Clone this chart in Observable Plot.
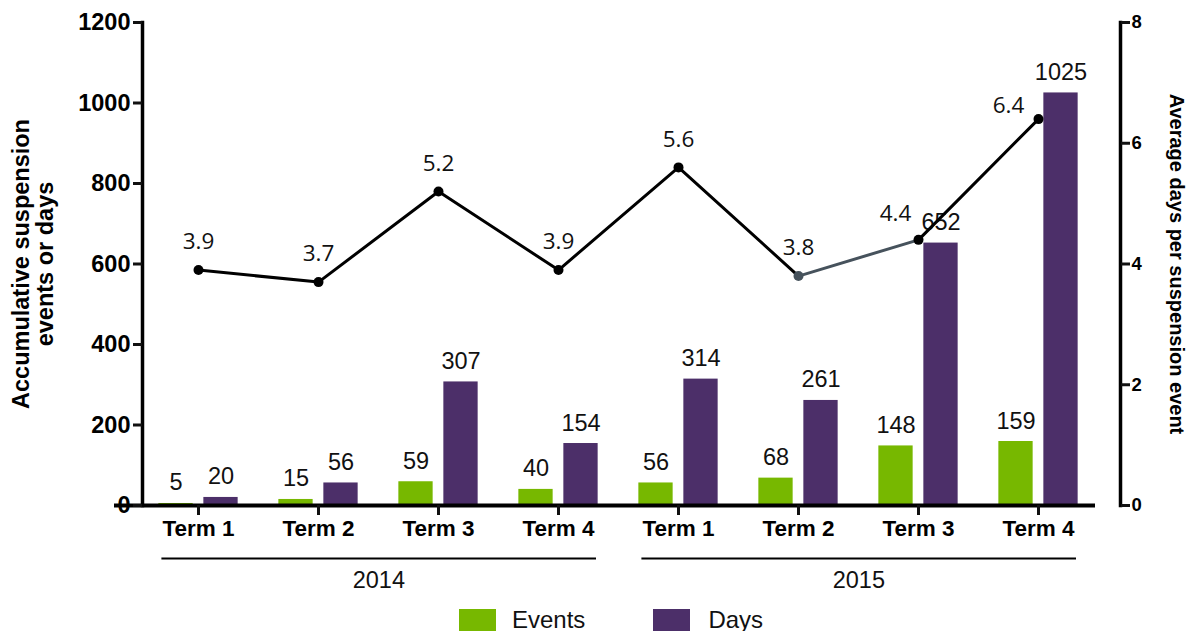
<!DOCTYPE html>
<html>
<head>
<meta charset="utf-8">
<script src="https://cdn.jsdelivr.net/npm/d3@7"></script>
<script src="https://cdn.jsdelivr.net/npm/@observablehq/plot@0.6"></script>
<style>
  html, body { margin: 0; padding: 0; background: #fff; }
  #chart svg { display: block; overflow: visible; }
  .legend { display: flex; align-items: center; margin-left: 459px; margin-top: 6px; font-family: "Liberation Sans", Arial, sans-serif; font-size: 24px; color: #111; }
  .legend .sw { width: 37px; height: 23px; display: inline-block; }
  .legend .lab { margin-left: 16px; }
</style>
</head>
<body>
<div id="chart"></div>
<div class="legend">
  <span class="sw" style="background:#77b800"></span><span class="lab">Events</span>
  <span class="sw" style="background:#4c2f69; margin-left:68px"></span><span class="lab" style="margin-left:18px">Days</span>
</div>
<script>
// ---- data ----
const terms = ["Term 1", "Term 2", "Term 3", "Term 4", "Term 1", "Term 2", "Term 3", "Term 4"];
const years = ["2014", "2014", "2014", "2014", "2015", "2015", "2015", "2015"];
const events = [5, 15, 59, 40, 56, 68, 148, 159];
const days = [20, 56, 307, 154, 314, 261, 652, 1025];
const avgDays = [3.9, 3.7, 5.2, 3.9, 5.6, 3.8, 4.4, 6.4];
const leftTicks = [0, 200, 400, 600, 800, 1000, 1200];
const rightTicks = [0, 2, 4, 6, 8];
const groupYears = ["2014", "2015"];

const GREEN = "#77b800";
const PURPLE = "#4c2f69";
const RATIO = 1200 / 8; // right axis (0-8) mapped onto left axis (0-1200)

const data = terms.map((t, i) => ({
  i, key: years[i] + " " + t, term: t, year: years[i],
  events: events[i], days: days[i], avg: avgDays[i]
}));
const keys = data.map(d => d.key);
const groups = groupYears.map(y => {
  const ks = data.filter(d => d.year === y).map(d => d.key);
  return {year: y, first: ks[0], second: ks[1], last: ks[ks.length - 1]};
});

const W = 1192, H = 600;
const mainLines = data.filter(d => d.i <= 5);
const graySeg = data.filter(d => d.i >= 5 && d.i <= 6);
const stdLabels = data.filter(d => d.i <= 5);
const LBL_FONT = "'Open Sans', sans-serif";

const plot = Plot.plot({
  width: W,
  height: H,
  marginTop: 22,
  marginBottom: 95,
  marginLeft: 142,
  marginRight: 72,
  style: {fontFamily: "'Liberation Sans', Arial, sans-serif", color: "#111", background: "#fff"},
  x: {domain: keys, range: [134.6, 1100.4], paddingInner: 0, paddingOuter: 0},
  y: {domain: [0, 1200]},
  marks: [
    // bars
    Plot.barY(data, {x: "key", y: "events", fill: GREEN, insetLeft: 20.35, insetRight: 65.35}),
    Plot.barY(data, {x: "key", y: "days", fill: PURPLE, insetLeft: 65.35, insetRight: 20.35}),
    // bar labels
    Plot.text(data, {x: "key", y: "events", text: d => String(d.events), dx: -22.5, dy: -13, lineAnchor: "bottom", fontSize: 23.5, fill: "#111"}),
    Plot.text(data, {x: "key", y: "days", text: d => String(d.days), dx: 22.5, dy: -13, lineAnchor: "bottom", fontSize: 23.5, fill: "#111"}),
    // axes frame lines
    Plot.frame({anchor: "left", strokeWidth: 3.5, stroke: "#000"}),
    Plot.frame({anchor: "right", strokeWidth: 3.5, stroke: "#000"}),
    Plot.ruleY([0], {strokeWidth: 4, stroke: "#000", insetLeft: -28, insetRight: 25}),
    // left axis
    Plot.axisY({anchor: "left", ticks: leftTicks, tickFormat: v => String(v), tickSize: 9, tickPadding: 3, strokeWidth: 3, fontSize: 23.5, fontWeight: "bold", label: null, fill: "#000"}),
    // right axis
    Plot.axisY({anchor: "right", ticks: rightTicks.map(v => v * RATIO), tickFormat: v => String(v / RATIO), tickSize: 9, tickPadding: 2, strokeWidth: 3, fontSize: 18.5, fontWeight: "bold", label: null, fill: "#000"}),
    // x axis
    Plot.axisX({anchor: "bottom", tickSize: 10, tickPadding: 5, strokeWidth: 3, fontSize: 22.5, fontWeight: "bold", tickFormat: k => k.split(" ").slice(1).join(" "), label: null, fill: "#000"}),
    // axis titles
    Plot.text(["Accumulative suspension\nevents or days"], {frameAnchor: "left", textAnchor: "middle", lineAnchor: "middle", text: d => d, rotate: -90, dx: -109, fontSize: 23.5, fontWeight: "bold", lineHeight: 1.03, fill: "#000"}),
    Plot.text(["Average days per suspension event"], {frameAnchor: "right", textAnchor: "middle", lineAnchor: "middle", text: d => d, rotate: 90, dx: 56, fontSize: 20, fontWeight: "bold", fill: "#000"}),
    // group lines & labels
    Plot.ruleY(groups, {y: 0, x1: "first", x2: "last", dy: 53, insetLeft: 23.4, insetRight: 22, strokeWidth: 2, stroke: "#000"}),
    Plot.text(groups, {x: "second", y: 0, text: "year", dx: 60.35, dy: 75, fontSize: 23.5, fill: "#111"}),
    // average line
    Plot.line(mainLines, {x: "key", y: d => d.avg * RATIO, stroke: "#000", strokeWidth: 3}),
    Plot.line(data.filter(d => d.i >= 6), {x: "key", y: d => d.avg * RATIO, stroke: "#000", strokeWidth: 3}),
    Plot.line(graySeg, {x: "key", y: d => d.avg * RATIO, stroke: "#46525c", strokeWidth: 3}),
    Plot.dot(data.filter(d => d.i !== 5), {x: "key", y: d => d.avg * RATIO, r: 5, fill: "#000", stroke: "none"}),
    Plot.dot(data.filter(d => d.i === 5), {x: "key", y: d => d.avg * RATIO, r: 5, fill: "#46525c", stroke: "none"}),
    // average labels
    Plot.text(stdLabels, {x: "key", y: d => d.avg * RATIO, text: d => d.avg.toFixed(1), dy: -28, fontSize: 22.5, fontFamily: LBL_FONT, fill: "#111"}),
    Plot.text(data.filter(d => d.i === 6), {x: "key", y: d => d.avg * RATIO, text: d => d.avg.toFixed(1), dx: -23, dy: -26, fontSize: 22.5, fontFamily: LBL_FONT, fill: "#111"}),
    Plot.text(data.filter(d => d.i === 7), {x: "key", y: d => d.avg * RATIO, text: d => d.avg.toFixed(1), dx: -30, dy: -13, fontSize: 22.5, fontFamily: LBL_FONT, fill: "#111"})
  ]
});
document.getElementById("chart").appendChild(plot);
</script>
</body>
</html>
